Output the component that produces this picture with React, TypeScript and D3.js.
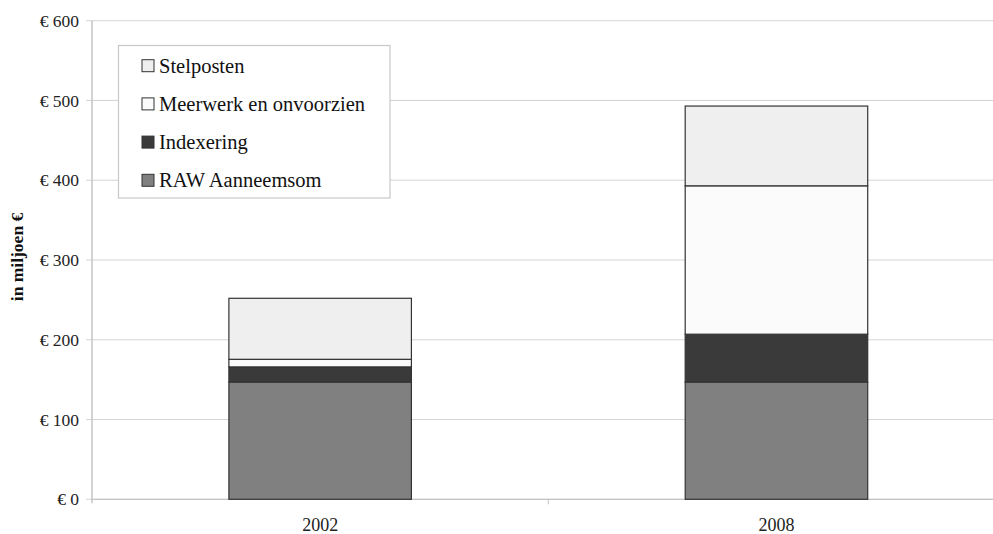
import React from "react";
import * as d3 from "d3";

const categories = ["2002", "2008"];
const seriesNames = ["RAW Aanneemsom", "Indexering", "Meerwerk en onvoorzien", "Stelposten"];
const rawValues = [147, 147];
const indexeringValues = [19, 60];
const meerwerkValues = [9.5, 186];
const stelpostenValues = [76.5, 100];
const yTicks = [0, 100, 200, 300, 400, 500, 600];
const colors = ["#808080", "#3a3a3a", "#fbfbfb", "#efefef"];

export default function App() {
  const W = 993, H = 534;
  const left = 92, right = 1004.6, top = 20.7, bottom = 499.3;
  const x = d3.scaleBand<string>().domain(categories).range([left, right]).paddingInner(0.6).paddingOuter(0.3);
  const xb = d3.scaleBand<string>().domain(categories).range([left, right]);
  const y = d3.scaleLinear().domain([0, 600]).range([bottom, top]);
  const seriesData = [rawValues, indexeringValues, meerwerkValues, stelpostenValues];
  const rows = categories.map((c, i) => {
    const r: any = { cat: c };
    seriesNames.forEach((s, k) => (r[s] = seriesData[k][i]));
    return r;
  });
  const stacked = d3.stack<any>().keys(seriesNames)(rows);
  const font = '"Liberation Serif", "DejaVu Serif", serif';
  const legendOrder = [3, 2, 1, 0];
  return (
    <svg width={W} height={H} style={{ position: "absolute", left: 0, top: 0, background: "#fff", fontFamily: font }}>
      {yTicks.map((t) => (
        <g key={t}>
          <line x1={left - 6} x2={right} y1={y(t)} y2={y(t)} stroke="#d4d4d4" strokeWidth={1} />
          <text x={79} y={y(t)} dy="0.35em" textAnchor="end" fontSize={17.5} fill="#222" style={{ fontFamily: font }}>
            {"€ " + t}
          </text>
        </g>
      ))}
      <line x1={left} x2={left} y1={top} y2={bottom + 4} stroke="#c4c4c4" strokeWidth={1.5} />
      <line x1={left} x2={right} y1={bottom} y2={bottom} stroke="#c4c4c4" strokeWidth={1.2} />
      {categories.slice(1).map((c) => (
        <line key={c} x1={xb(c)!} x2={xb(c)!} y1={bottom} y2={bottom + 5} stroke="#c4c4c4" />
      ))}
      {stacked.map((s, k) =>
        s.map((d, i) => (
          <rect
            key={k + "-" + i}
            x={x(categories[i])!}
            width={x.bandwidth()}
            y={y(d[1])}
            height={y(d[0]) - y(d[1])}
            fill={colors[k]}
            stroke="#333"
            strokeWidth={1.2}
          />
        ))
      )}
      {categories.map((c) => (
        <text key={c} x={x(c)! + x.bandwidth() / 2} y={525} dy="0.35em" textAnchor="middle" fontSize={18} fill="#222" style={{ fontFamily: font }}>
          {c}
        </text>
      ))}
      <text transform={`translate(16.7,257) rotate(-90)`} textAnchor="middle" dy="0.35em" fontSize={17.5} fontWeight="bold" fill="#111" style={{ fontFamily: font }}>
        in miljoen €
      </text>
      <rect x={118.5} y={45.5} width={271.5} height={152.5} fill="#fff" stroke="#c8c8c8" strokeWidth={1.2} />
      {legendOrder.map((k, j) => {
        const cy = 65.7 + j * 38.2;
        return (
          <g key={k}>
            <rect x={142} y={cy - 6} width={12} height={12} fill={colors[k]} stroke="#333" strokeWidth={1} />
            <text x={159} y={cy} dy="0.35em" fontSize={20.5} fill="#111" style={{ fontFamily: font }}>
              {seriesNames[k]}
            </text>
          </g>
        );
      })}
    </svg>
  );
}
